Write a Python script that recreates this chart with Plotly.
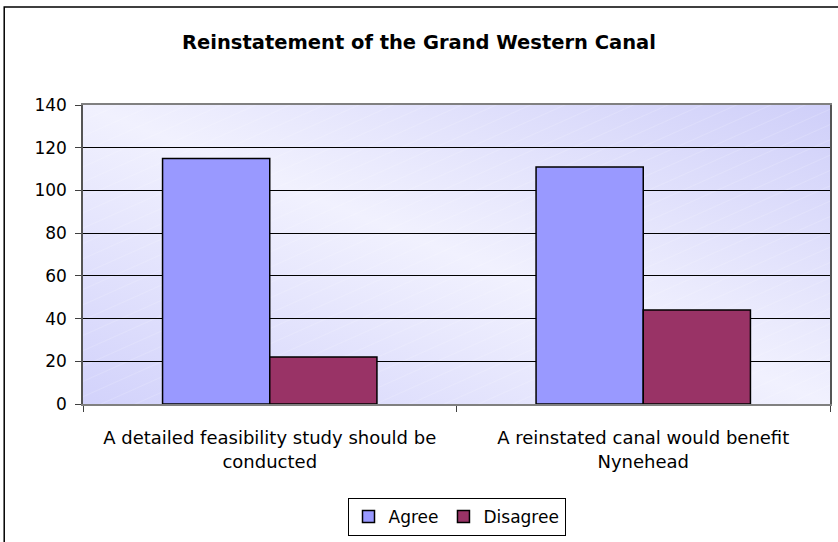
import base64
import plotly.graph_objects as go

categories = [
    "A detailed feasibility study should be<br>conducted",
    "A reinstated canal would benefit<br>Nynehead",
]
agree = [115, 111]
disagree = [22, 44]

W, H = 838, 542
# plot area in pixels
PL, PR, PT, PB = 83, 832, 105, 404
PW, PH = PR - PL, PB - PT

FONT = "DejaVu Sans, Verdana, sans-serif"

# Excel-like diagonal gradient for the plot area background
svg = f"""<svg xmlns='http://www.w3.org/2000/svg' width='{PW}' height='{PH}' viewBox='0 0 {PW} {PH}' preserveAspectRatio='none'>
<defs>
<linearGradient id='g' x1='0' y1='1' x2='1' y2='0' gradientUnits='objectBoundingBox'>
<stop offset='0' stop-color='#d2d2fb'/>
<stop offset='0.5' stop-color='#f1f1fe'/>
<stop offset='1' stop-color='#cfcff9'/>
</linearGradient>
<pattern id='p' width='14' height='14' patternUnits='userSpaceOnUse' patternTransform='rotate(-24)'>
<line x1='0' y1='0' x2='14' y2='0' stroke='white' stroke-width='1.2' stroke-opacity='0.25'/>
</pattern>
</defs>
<rect width='{PW}' height='{PH}' fill='url(#g)'/>
<rect width='{PW}' height='{PH}' fill='url(#p)'/>
</svg>"""
bg_src = "data:image/svg+xml;base64," + base64.b64encode(svg.encode()).decode()

fig = go.Figure()
fig.add_trace(
    go.Bar(
        x=categories,
        y=agree,
        name="Agree",
        marker=dict(color="#9999ff", line=dict(color="black", width=1.5)),
    )
)
fig.add_trace(
    go.Bar(
        x=categories,
        y=disagree,
        name="Disagree",
        marker=dict(color="#993366", line=dict(color="black", width=1.5)),
    )
)

fig.update_layout(
    width=W,
    height=H,
    margin=dict(l=PL, r=W - PR, t=PT, b=H - PB),
    paper_bgcolor="white",
    plot_bgcolor="rgba(0,0,0,0)",
    font=dict(family=FONT, size=17, color="black"),
    barmode="group",
    bargap=0.426,
    bargroupgap=0,
    title=dict(
        text="<b>Reinstatement of the Grand Western Canal</b>",
        x=0.5,
        xanchor="center",
        xref="container",
        y=1 - 42 / H,
        yanchor="middle",
        font=dict(family=FONT, size=19.5, color="black"),
    ),
    legend=dict(
        orientation="h",
        x=0.5,
        xanchor="center",
        y=(PB - 517) / PH,
        yanchor="middle",
        bordercolor="black",
        borderwidth=1,
        bgcolor="white",
        font=dict(size=17),
        itemwidth=30,
        tracegroupgap=0,
    ),
    showlegend=True,
    images=[
        dict(
            source=bg_src,
            xref="paper",
            yref="paper",
            x=0,
            y=1,
            sizex=1,
            sizey=1,
            sizing="stretch",
            xanchor="left",
            yanchor="top",
            layer="below",
        )
    ],
    shapes=[
        # outer chart border
        dict(
            type="rect",
            xref="paper",
            yref="paper",
            x0=(4 - PL) / PW,
            x1=(W + 20 - PL) / PW,
            y0=(PB - (H + 20)) / PH,
            y1=(PB - 7) / PH,
            line=dict(color="black", width=1.5),
            layer="below",
        )
    ],
)

fig.update_xaxes(
    showline=True,
    linecolor="#808080",
    linewidth=1.5,
    mirror=True,
    ticks="outside",
    tickson="boundaries",
    ticklen=6,
    tickcolor="#404040",
    ticklabelstandoff=17,
    tickfont=dict(size=18),
    showgrid=False,
)
fig.update_yaxes(
    range=[0, 140],
    dtick=20,
    showline=True,
    linecolor="#555555",
    linewidth=1.5,
    mirror=True,
    ticks="outside",
    ticklen=6,
    tickcolor="#404040",
    ticklabelstandoff=5,
    showgrid=True,
    gridcolor="black",
    gridwidth=1,
    zeroline=False,
)

fig.write_html(
    "out.html",
    config={"displayModeBar": False},
    post_script="document.body.style.margin = '0';",
)
